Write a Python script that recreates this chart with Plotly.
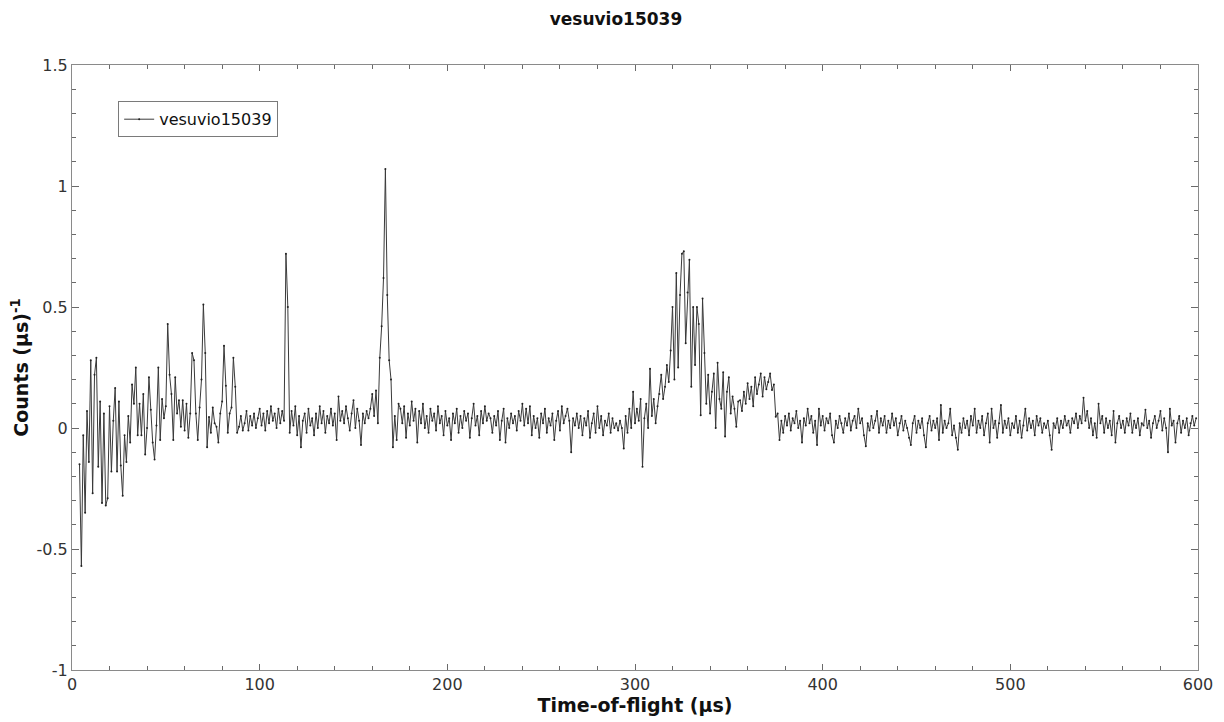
import plotly.graph_objects as go

# Time-of-flight bins (μs): each segment starts at the given TOF, 1 μs bins
seg_a_start = 4
seg_a = [-0.15, -0.57, -0.03, -0.35, 0.07, -0.14, 0.28, -0.27, 0.22, 0.29,
         -0.16, 0.11, -0.31, 0.06, -0.32, -0.29, 0.09, -0.18, 0.03, 0.165,
         -0.18, 0.11, -0.155, -0.28, -0.03, -0.14, 0.05, -0.06, 0.18, 0.10,
         0.25, -0.03, 0.10, -0.03, 0.14, -0.11, 0.0, 0.21, 0.075, -0.06,
         -0.13, 0.01, 0.25, -0.05, 0.12, 0.04, 0.09, 0.43, 0.22, 0.14,
         -0.05, 0.21, 0.06]

seg_b_start = 57
seg_b = [0.115, 0.005, 0.115, -0.01, 0.10, -0.04, 0.06, 0.31, 0.28, 0.06,
         -0.05, 0.085, 0.20, 0.51, 0.31, -0.08, 0.045, -0.02, 0.085, 0.02,
         0.005, -0.06, 0.06, 0.11, 0.34, 0.175, -0.02, 0.06, 0.085, 0.29,
         0.17, -0.02, 0.005, 0.05, -0.01, 0.02, 0.07, -0.01, 0.05, 0.01,
         0.06, 0.0, 0.04, 0.08, 0.01, 0.06, -0.01, 0.07, 0.02, 0.09,
         0.03, 0.06, 0.0, 0.08, 0.02, 0.07, 0.03]

seg_c_start = 114
seg_c = [0.72, 0.50, -0.02, 0.07, 0.01, 0.09, -0.03, 0.05, -0.08, 0.03,
         0.06, -0.02, 0.08, 0.01, 0.04, -0.03, 0.06, 0.0, 0.09, 0.02,
         0.07, -0.02, 0.05, 0.02, 0.08, 0.01, 0.06, -0.05, 0.13, 0.03,
         0.07, 0.02, 0.09, 0.04, -0.01, 0.06, 0.115, 0.0, 0.08, 0.03,
         -0.07, 0.06, 0.02, 0.07, 0.04, 0.08, 0.14, 0.05, 0.155, 0.02,
         0.29, 0.42, 0.62, 1.07, 0.55, 0.28, 0.20, -0.08]

seg_d_start = 172
seg_d = [0.05, -0.05, 0.10, 0.08, 0.02, 0.09, -0.04, 0.06, 0.01, 0.11,
         0.03, 0.08, -0.06, 0.07, 0.02, 0.10, 0.0, 0.05, -0.02, 0.08,
         0.03, 0.06, -0.01, 0.09, 0.02, 0.05, -0.03, 0.07, 0.01, 0.04,
         -0.05, 0.06, 0.02, 0.08, -0.02, 0.05, 0.0, 0.07, 0.03, 0.06,
         -0.04, 0.04, 0.10, 0.01, 0.05, -0.03, 0.07, 0.02, 0.09, 0.03,
         0.06, 0.04, -0.02, 0.05, 0.01, 0.07, -0.05, 0.03, 0.08, -0.06,
         0.04, 0.0, 0.06, 0.02, 0.05, -0.01, 0.07, 0.03, 0.10, 0.01,
         0.08, 0.02, 0.09, -0.03, 0.05, 0.0, 0.04, -0.04, 0.06, 0.02,
         0.08, -0.02, 0.04, 0.01, 0.06, -0.05, 0.03, 0.07, -0.01, 0.09,
         0.02, 0.05, 0.08, 0.03, -0.10, 0.04, 0.01, 0.06, 0.0, 0.05,
         -0.03, 0.04, 0.01, 0.07, -0.04, 0.02, 0.06, -0.02, 0.09, 0.0,
         0.05, -0.03, 0.03, 0.01, 0.06, -0.02, 0.04, 0.0, 0.02, -0.01,
         0.03, 0.0, -0.085, 0.05, -0.02, 0.08, 0.0, 0.15, 0.02]

seg_e_start = 301
seg_e = [0.08, 0.03, 0.12, -0.16, 0.04, 0.10, 0.0, 0.245, 0.05, 0.12,
         0.02, 0.09, 0.14, 0.22, 0.12, 0.17, 0.26, 0.19, 0.32, 0.50,
         0.20, 0.64, 0.25, 0.55, 0.72, 0.73, 0.35, 0.56, 0.695, 0.17,
         0.50, 0.26, 0.50, 0.43, 0.053, 0.535, 0.31, 0.10, 0.22, 0.06,
         0.15, 0.225, 0.0, 0.27, 0.12, 0.08, 0.23, -0.035, 0.15, 0.21,
         0.06, 0.13, 0.08, 0.005, 0.11, 0.115, 0.07, 0.15, 0.10, 0.185,
         0.12, 0.17, 0.09, 0.21, 0.14, 0.18, 0.225, 0.13, 0.21, 0.16,
         0.19, 0.225, 0.157, 0.18, 0.047, 0.06, -0.05]

seg_f_start = 378
seg_f = [0.03, -0.02, 0.05, 0.01, 0.06, -0.01, 0.04, 0.02, 0.07, 0.0,
         0.03, -0.06, 0.04, 0.01, 0.08, 0.02, 0.05, -0.02, 0.03, -0.07,
         0.08, 0.01, 0.05, -0.01, 0.04, 0.02, 0.06, -0.03, -0.06, 0.03,
         0.0, 0.05, 0.02, -0.02, 0.04, 0.01, 0.06, -0.01, 0.03, 0.05,
         0.0, 0.08, 0.02, 0.04, -0.03, -0.075, 0.02, -0.01, 0.05, 0.0,
         0.03, 0.07, -0.02, 0.04, 0.01, 0.05, -0.02, 0.03, 0.0, 0.06,
         0.01, 0.04, -0.03, 0.02, 0.05, -0.01, 0.03, 0.0, -0.04, -0.07,
         0.02, 0.05, -0.02, 0.03, 0.0, 0.04, -0.03, -0.08, 0.02, 0.05,
         -0.01, 0.03, 0.0, 0.04, -0.05, 0.095, -0.02, 0.03, 0.0, 0.02,
         0.08, -0.03, 0.01, -0.04, -0.09, 0.02, -0.02, 0.04, 0.0, 0.03,
         -0.03, 0.05, 0.01, 0.08, -0.02, 0.03, 0.0, 0.05, -0.03, 0.02,
         0.06, -0.06, 0.08, 0.0, 0.03, -0.04, 0.02, 0.095, -0.02, 0.03,
         0.0, 0.04, -0.03, 0.02, 0.0, 0.05, -0.02, 0.03, -0.04, 0.01,
         0.08, -0.01, 0.04, 0.0, 0.03, -0.03, 0.05, 0.01, 0.04, -0.02,
         0.02, 0.0, 0.03, -0.03, -0.09, 0.02, 0.0, 0.04, -0.02, 0.03,
         0.0, 0.05, 0.01, 0.03, -0.02, 0.04, 0.02, 0.06, 0.0, 0.05,
         0.02, 0.125, 0.03, 0.07, 0.0, 0.04, -0.03, 0.02, -0.04, 0.10,
         0.02, 0.05, -0.02, 0.04, 0.0, 0.03, -0.03, 0.07, -0.06, 0.02,
         0.05, 0.0, 0.03, -0.02, 0.04, 0.01, 0.06, -0.02, 0.03, 0.0,
         0.04, -0.03, 0.02, 0.01, 0.075, 0.0, 0.03, -0.04, 0.02, 0.05,
         0.0, 0.03, 0.07, -0.01, 0.04, 0.0, -0.10, 0.08, 0.01, 0.03,
         -0.06, 0.02, 0.05, -0.02, 0.03, 0.0, 0.04, -0.03, 0.02, 0.05,
         0.01, 0.04]

segments = [(seg_a_start, seg_a), (seg_b_start, seg_b), (seg_c_start, seg_c),
            (seg_d_start, seg_d), (seg_e_start, seg_e), (seg_f_start, seg_f)]

tof = []
counts = []
for start, vals in segments:
    tof.extend(start + i for i in range(len(vals)))
    counts.extend(vals)

x_ticks = [0, 100, 200, 300, 400, 500, 600]
y_ticks = [-1, -0.5, 0, 0.5, 1, 1.5]
y_tick_text = ["-1", "-0.5", "0", "0.5", "1", "1.5"]

FONT = "DejaVu Sans"

fig = go.Figure()
fig.add_trace(go.Scatter(
    x=tof, y=counts, mode="lines+markers", name="vesuvio15039",
    line=dict(color="#3a3a3a", width=1),
    marker=dict(color="#222222", size=2),
))

axis_common = dict(
    showgrid=False, zeroline=False, showline=True, linecolor="#8a8a8a",
    linewidth=1, mirror="allticks", ticks="inside", tickcolor="#6a6a6a",
    automargin=False,
    tickfont=dict(family=FONT, size=16, color="#333333"),
)

fig.update_layout(
    width=1216, height=714,
    margin=dict(l=64, r=26, t=57, b=52),
    paper_bgcolor="white", plot_bgcolor="white",
    title=dict(text="<b>vesuvio15039</b>", x=0.5, xanchor="center",
               y=0.984, yanchor="middle",
               font=dict(family=FONT, size=17, color="#111111")),
    showlegend=True,
    legend=dict(x=0.041, y=0.94, xanchor="left", yanchor="top",
                bgcolor="white", bordercolor="#7a7a7a", borderwidth=1,
                font=dict(family=FONT, size=16, color="#111111"),
                itemwidth=30),
    xaxis=dict(range=[0, 600], tickmode="array", tickvals=x_ticks,
               ticklen=6, minor=dict(dtick=20, tick0=0, ticklen=4,
                                     ticks="inside", tickcolor="#6a6a6a"),
               title=dict(text="<b>Time-of-flight (μs)</b>", standoff=2,
                          font=dict(family=FONT, size=19, color="#111111")),
               **axis_common),
    yaxis=dict(range=[-1, 1.5], tickmode="array", tickvals=y_ticks,
               ticktext=y_tick_text, ticklen=7,
               minor=dict(dtick=0.1, tick0=0, ticklen=4, ticks="inside",
                          tickcolor="#6a6a6a"),
               title=dict(text="<b>Counts (μs)<sup>-1</sup></b>", standoff=8,
                          font=dict(family=FONT, size=19, color="#111111")),
               **axis_common),
)

fig.write_html("out.html")
